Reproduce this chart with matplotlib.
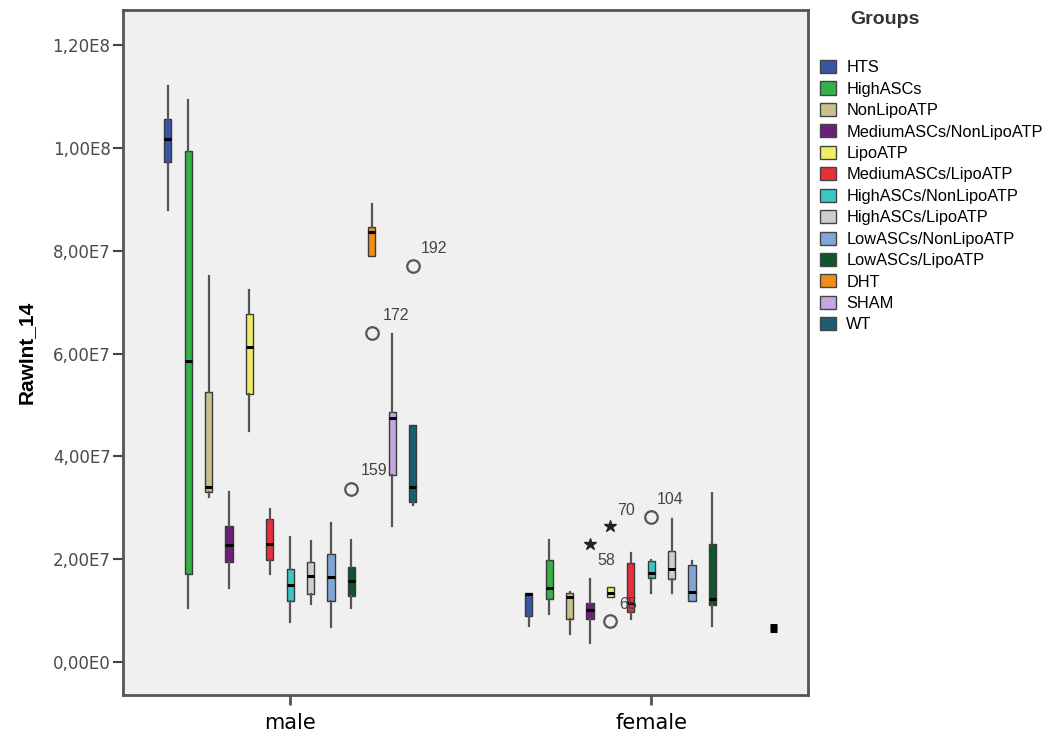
import matplotlib.pyplot as plt
from matplotlib.patches import Patch

groups = ["HTS", "HighASCs", "NonLipoATP", "MediumASCs/NonLipoATP", "LipoATP",
          "MediumASCs/LipoATP", "HighASCs/NonLipoATP", "HighASCs/LipoATP",
          "LowASCs/NonLipoATP", "LowASCs/LipoATP", "DHT", "SHAM", "WT"]
colors = ["#3b55a6", "#33b24a", "#c9c08c", "#6a1f78", "#f1ec66", "#e8303a",
          "#3cc6c6", "#cdcdcd", "#7fa6d6", "#0e562c", "#ef8e17", "#c6a6e0", "#1b5d72"]
sexes = ["male", "female"]

# values, in units of 1E7
male_lo = [8.79, 1.05, 3.21, 1.44, 4.49, 1.71, 0.78, 1.13, 0.68, 1.05, 7.90, 2.65, 3.05]
male_q1 = [9.73, 1.71, 3.31, 1.95, 5.21, 1.98, 1.19, 1.32, 1.19, 1.29, 7.90, 3.64, 3.11]
male_med = [10.18, 5.86, 3.40, 2.28, 6.13, 2.30, 1.49, 1.67, 1.65, 1.58, 8.37, 4.75, 3.40]
male_q3 = [10.57, 9.94, 5.25, 2.65, 6.78, 2.78, 1.81, 1.95, 2.10, 1.85, 8.46, 4.86, 4.61]
male_hi = [11.21, 10.93, 7.51, 3.31, 7.24, 2.98, 2.44, 2.35, 2.70, 2.37, 8.91, 6.38, 4.61]

# no DHT / SHAM data for females
female_lo = [0.70, 0.93, 0.54, 0.37, 1.26, 0.84, 1.34, 1.34, 1.19, 0.70, None, None, 0.66]
female_q1 = [0.89, 1.23, 0.84, 0.84, 1.26, 0.97, 1.63, 1.61, 1.19, 1.11, None, None, 0.66]
female_med = [1.32, 1.44, 1.26, 1.01, 1.34, 1.15, 1.73, 1.81, 1.36, 1.23, None, None, 0.66]
female_q3 = [1.35, 1.98, 1.34, 1.15, 1.46, 1.93, 1.96, 2.16, 1.89, 2.30, None, None, 0.66]
female_hi = [1.35, 2.37, 1.36, 1.61, 1.46, 2.12, 1.98, 2.78, 1.96, 3.29, None, None, 0.66]

# outliers: sex, group index, value (1E7), case label, marker, label offset (px)
out_sex = ["male", "male", "male", "female", "female", "female", "female"]
out_group = [9, 10, 12, 3, 4, 4, 6]
out_val = [3.37, 6.40, 7.70, 2.30, 2.65, 0.80, 2.82]
out_label = ["159", "172", "192", "58", "70", "65", "104"]
out_marker = ["o", "o", "o", "*", "*", "o", "o"]
out_dx = [9, 11, 8, 7, 7, 9, 6]
out_dy = [18, 18, 18, -17, 15, 16, 18]

SCALE = 1e7
spacing = 0.0565
width = 0.02

data = {
    "male": (male_lo, male_q1, male_med, male_q3, male_hi),
    "female": (female_lo, female_q1, female_med, female_q3, female_hi),
}

fig = plt.figure(figsize=(10.46, 7.37), dpi=100)
ax = fig.add_axes([0.1176, 0.057, 0.655, 0.9294])
ax.set_facecolor("#f0f0f0")

def pos(sex, i):
    return sexes.index(sex) + (i - 6) * spacing

for sex in sexes:
    lo, q1, med, q3, hi = data[sex]
    for i in range(len(groups)):
        if med[i] is None:
            continue
        st = {"whislo": lo[i] * SCALE, "q1": q1[i] * SCALE, "med": med[i] * SCALE,
              "q3": q3[i] * SCALE, "whishi": hi[i] * SCALE, "fliers": []}
        r = ax.bxp([st], positions=[pos(sex, i)], widths=width, patch_artist=True,
                   showcaps=False, showfliers=False,
                   boxprops=dict(facecolor=colors[i], edgecolor="#3a3a3a", linewidth=1),
                   whiskerprops=dict(color="#555555", linewidth=1.6),
                   medianprops=dict(color="black", linewidth=2.2))
        if q1[i] == q3[i]:
            r["medians"][0].set_linewidth(6.5)
            r["medians"][0].set_solid_capstyle("butt")

for k in range(len(out_val)):
    x = pos(out_sex[k], out_group[k])
    y = out_val[k] * SCALE
    if out_marker[k] == "o":
        ax.plot(x, y, "o", ms=9, mfc="none", mec="#555555", mew=1.6)
    else:
        ax.plot(x, y, "*", ms=9, color="#222222")
    ax.annotate(out_label[k], (x, y), xytext=(out_dx[k] * 0.72, out_dy[k] * 0.72),
                textcoords="offset points", ha="left", va="center", zorder=6,
                fontsize=11.5, color="#444444", family="Liberation Sans")

ax.set_xlim(-0.463, 1.435)
ax.set_ylim(-0.642e7, 12.685e7)
ax.set_xticks([0, 1])
ax.set_xticklabels(sexes, fontsize=15)
ax.tick_params(axis="x", length=7, width=2, color="#555555", pad=6)

yt = [0, 2e7, 4e7, 6e7, 8e7, 1e8, 1.2e8]
ax.set_yticks(yt)
ax.set_yticklabels(["0,00E0", "2,00E7", "4,00E7", "6,00E7", "8,00E7", "1,00E8", "1,20E8"],
                   fontsize=12, color="#4a4a4a")
ax.tick_params(axis="y", length=7, width=1.5, color="#444444", pad=2)
ax.set_ylabel("RawInt_14", fontsize=15, fontweight="bold", family="Liberation Sans", labelpad=12)

for s in ax.spines.values():
    s.set_color("#555555")
    s.set_linewidth(2)

handles = [Patch(facecolor=c, edgecolor="#444444", linewidth=1) for c in colors]
fig.legend(handles, groups, loc="upper left", bbox_to_anchor=(820 / 1046, 1 - 60 / 737),
           frameon=False, prop={"family": "Liberation Sans", "size": 11.8},
           handlelength=1.0, handleheight=0.85, handletextpad=0.6, labelspacing=0.38,
           borderpad=0, borderaxespad=0)
fig.text(885 / 1046, 1 - 20 / 737, "Groups", ha="center", va="center",
         fontsize=14, fontweight="bold", family="Liberation Sans", color="#333333")

fig.savefig("out.png", dpi=100)
